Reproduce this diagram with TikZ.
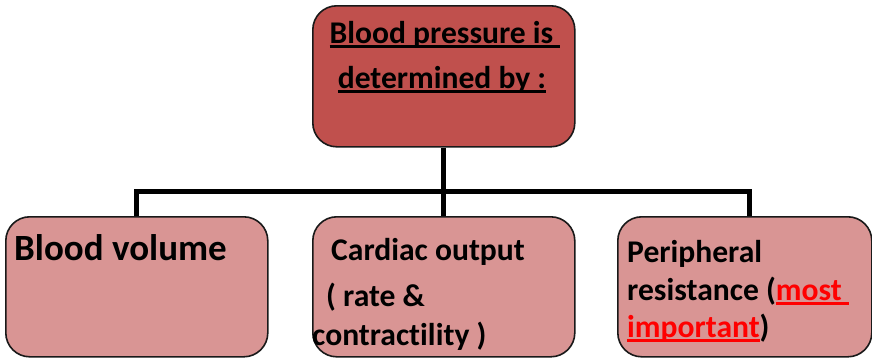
\documentclass[tikz,border=0pt]{standalone}
\usepackage{fontspec}
\setmainfont{Carlito}[Ligatures=NoCommon]
\newcommand\ulx[1]{\setbox0=\hbox{#1}\rlap{\rule[-5pt]{\wd0}{2.6pt}}\box0}
\definecolor{topred}{HTML}{C0504D}
\definecolor{boxpink}{HTML}{D99594}
\definecolor{brightred}{HTML}{FF0000}
\begin{document}
\begin{tikzpicture}[x=1pt,y=-1pt,
  box/.style={draw=black!90, line width=1.6pt, rounded corners=24pt, inner sep=0pt, minimum width=262pt, minimum height=141pt, anchor=north west},
  conn/.style={line width=5pt, black},
  txt/.style={inner sep=0pt, font=\bfseries\fontsize{31.6}{36}\selectfont},
  bigtxt/.style={inner sep=0pt, font=\bfseries\fontsize{37}{40}\selectfont}]
\useasboundingbox (0,0) rectangle (872,360);
\node[box, fill=topred] (top) at (312,5) {};
\node[box, fill=boxpink, minimum height=140pt] (left) at (5,216) {};
\node[box, fill=boxpink, minimum height=140pt] (mid) at (312,216) {};
\node[box, fill=boxpink, minimum height=140pt, minimum width=254pt] (right) at (617,216) {};
\coordinate (hub) at (443,191);
\coordinate (rdrop) at (749,216);
\draw[conn] (left.north) |- (hub) -| (rdrop);
\draw[conn] (top.south) -- (mid.north);
\node[txt, anchor=base] (t1) at (445,43) {\ulx{Blood pressure is\ }};
\node[txt, anchor=base] (t2) at (442,88) {\ulx{determined by :}};
\node[bigtxt, anchor=base west] (l1) at (14,260) {Blood volume};
\node[txt, anchor=base west] (m1) at (331,260) {Cardiac output};
\node[txt, anchor=base west] (m2) at (326,306) {( rate \&};
\node[txt, anchor=base west] (m3) at (312,345) {contractility )};
\node[txt, anchor=base west] (r1) at (627,262) {Peripheral};
\node[txt, anchor=base west] (r2) at (627,300) {resistance (\textcolor{brightred}{\ulx{most\ }}};
\node[txt, anchor=base west] (r3) at (627,337) {\textcolor{brightred}{\ulx{important}})};
\end{tikzpicture}
\end{document}
